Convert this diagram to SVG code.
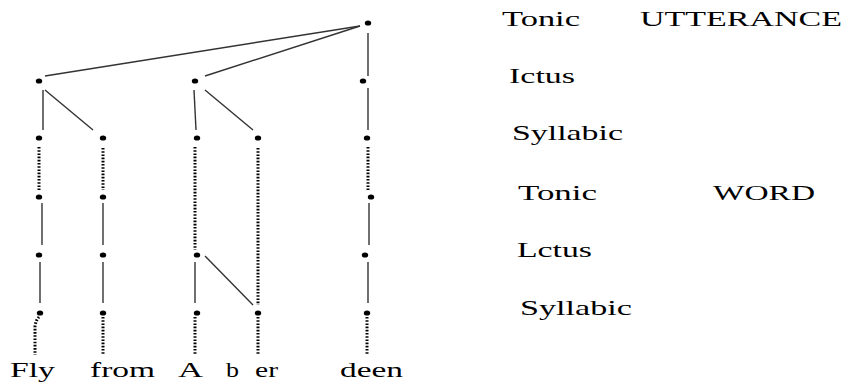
<svg xmlns="http://www.w3.org/2000/svg" width="843" height="383" viewBox="0 0 843 383">
<style>
.n{fill:#000}
.s{stroke:#333;stroke-width:1.4;fill:none}
.d{stroke:#000;stroke-width:3;stroke-dasharray:1.6 1.6;fill:none}
.t{font-family:"Liberation Serif","Times New Roman",serif;font-size:22px;fill:#000}
</style>
<rect width="843" height="383" fill="#fff"/>
<g id="connectors">
<line class="s" x1="360" y1="26" x2="45" y2="76"/>
<line class="s" x1="360" y1="26" x2="205" y2="76"/>
<line class="s" x1="368" y1="33" x2="368" y2="76"/>
<line class="s" x1="43" y1="90" x2="43" y2="130"/>
<line class="s" x1="45" y1="90" x2="93" y2="130"/>
<line class="s" x1="194" y1="90" x2="196" y2="130"/>
<line class="s" x1="205" y1="90" x2="253" y2="130"/>
<line class="s" x1="368" y1="88" x2="368" y2="130"/>
<line class="d" x1="39" y1="147" x2="39" y2="190"/>
<line class="d" x1="103" y1="148" x2="103" y2="190"/>
<line class="d" x1="195" y1="147" x2="195" y2="250"/>
<line class="d" x1="258" y1="148" x2="258" y2="305"/>
<line class="d" x1="368" y1="147" x2="368" y2="190"/>
<line class="s" x1="42" y1="203" x2="42" y2="245"/>
<line class="s" x1="103" y1="203" x2="103" y2="245"/>
<line class="s" x1="369" y1="203" x2="369" y2="245"/>
<line class="s" x1="40" y1="262" x2="40" y2="303"/>
<line class="s" x1="103" y1="262" x2="103" y2="303"/>
<line class="s" x1="195" y1="262" x2="195" y2="303"/>
<line class="s" x1="205" y1="256" x2="253" y2="305"/>
<line class="s" x1="368" y1="262" x2="368" y2="303"/>
<path class="d" d="M39 317 Q36 320 35 326 L35 355"/>
<line class="d" x1="103" y1="317" x2="103" y2="355"/>
<line class="d" x1="195" y1="317" x2="195" y2="355"/>
<line class="d" x1="258" y1="317" x2="258" y2="355"/>
<line class="d" x1="367" y1="317" x2="367" y2="355"/>
</g>
<g id="nodes">
<ellipse class="n" cx="368" cy="23" rx="3.2" ry="2.6"/>
<ellipse class="n" cx="39" cy="81" rx="3.2" ry="2.6"/>
<ellipse class="n" cx="195" cy="81" rx="3.2" ry="2.6"/>
<ellipse class="n" cx="363" cy="81" rx="3.2" ry="2.6"/>
<ellipse class="n" cx="39" cy="138" rx="3.2" ry="2.6"/>
<ellipse class="n" cx="103" cy="138" rx="3.2" ry="2.6"/>
<ellipse class="n" cx="197" cy="138" rx="3.2" ry="2.6"/>
<ellipse class="n" cx="258" cy="138" rx="3.2" ry="2.6"/>
<ellipse class="n" cx="367" cy="138" rx="3.2" ry="2.6"/>
<ellipse class="n" cx="39" cy="197" rx="3.2" ry="2.6"/>
<ellipse class="n" cx="103" cy="197" rx="3.2" ry="2.6"/>
<ellipse class="n" cx="371" cy="197" rx="3.2" ry="2.6"/>
<ellipse class="n" cx="39" cy="255" rx="3.2" ry="2.6"/>
<ellipse class="n" cx="103" cy="255" rx="3.2" ry="2.6"/>
<ellipse class="n" cx="197" cy="255" rx="3.2" ry="2.6"/>
<ellipse class="n" cx="365" cy="255" rx="3.2" ry="2.6"/>
<ellipse class="n" cx="40" cy="313" rx="3.2" ry="2.6"/>
<ellipse class="n" cx="103" cy="313" rx="3.2" ry="2.6"/>
<ellipse class="n" cx="197" cy="313" rx="3.2" ry="2.6"/>
<ellipse class="n" cx="258" cy="313" rx="3.2" ry="2.6"/>
<ellipse class="n" cx="367" cy="313" rx="3.2" ry="2.6"/>
</g>
<g id="words" class="t">
<text x="10" y="377" textLength="45" lengthAdjust="spacingAndGlyphs">Fly</text>
<text x="90" y="377" textLength="65" lengthAdjust="spacingAndGlyphs">from</text>
<text x="178" y="377" textLength="25" lengthAdjust="spacingAndGlyphs">A</text>
<text x="226" y="377" textLength="13" lengthAdjust="spacingAndGlyphs">b</text>
<text x="255" y="377" textLength="23" lengthAdjust="spacingAndGlyphs">er</text>
<text x="340" y="377" textLength="63" lengthAdjust="spacingAndGlyphs">deen</text>
</g>
<g id="labels" class="t">
<text x="502" y="26" textLength="78" lengthAdjust="spacingAndGlyphs">Tonic</text>
<text x="640" y="26" textLength="202" lengthAdjust="spacingAndGlyphs">UTTERANCE</text>
<text x="509" y="83" textLength="66" lengthAdjust="spacingAndGlyphs">Ictus</text>
<text x="512" y="140" textLength="111" lengthAdjust="spacingAndGlyphs">Syllabic</text>
<text x="518" y="200" textLength="79" lengthAdjust="spacingAndGlyphs">Tonic</text>
<text x="713" y="200" textLength="102" lengthAdjust="spacingAndGlyphs">WORD</text>
<text x="517" y="257" textLength="75" lengthAdjust="spacingAndGlyphs">Lctus</text>
<text x="520" y="315" textLength="112" lengthAdjust="spacingAndGlyphs">Syllabic</text>
</g>
</svg>
